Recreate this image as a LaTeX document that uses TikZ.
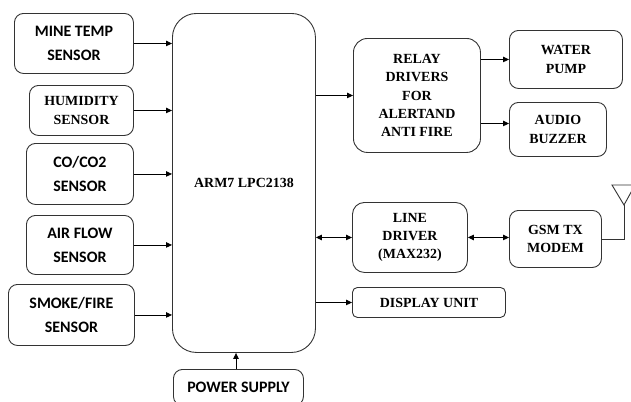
\documentclass[tikz,border=0pt]{standalone}
\usepackage{fontspec}
\setmainfont{Liberation Serif}
\newfontfamily\timesfont{Liberation Serif}
\newfontfamily\calfont{Carlito}
\usetikzlibrary{arrows.meta}
\tikzset{
  box/.style={draw=black!80, line width=0.9bp, rounded corners=9bp, inner sep=0pt, align=center, anchor=north west},
  sf/.style={font=\calfont\bfseries\fontsize{16}{24}\selectfont},
  rm/.style={font=\timesfont\bfseries\fontsize{14}{18.5}\selectfont},
  arr/.style={draw=black, line width=0.9bp, -{Triangle[length=6bp,width=5.5bp]}},
  darr/.style={draw=black, line width=0.9bp, {Triangle[length=6bp,width=5.5bp]}-{Triangle[length=6bp,width=5.5bp]}},
  ln/.style={draw=black!80, line width=0.9bp}
}
\begin{document}
\begin{tikzpicture}[x=1bp,y=-1bp]
\useasboundingbox (0,0) rectangle (631,401);
% sensors
\node[box,sf,minimum width=119bp,minimum height=60bp] (mine) at (14,13) {MINE TEMP\\SENSOR};
\node[box,rm,minimum width=104bp,minimum height=50bp] (hum) at (29,85) {HUMIDITY\\SENSOR};
\node[box,sf,minimum width=107bp,minimum height=61bp] (co) at (26,143) {CO/CO2\\SENSOR};
\node[box,sf,minimum width=107bp,minimum height=59bp] (air) at (26,215) {AIR FLOW\\SENSOR};
\node[box,sf,minimum width=126bp,minimum height=61bp] (smoke) at (8,284) {SMOKE/FIRE\\SENSOR};
% controller
\node[box,rm,rounded corners=24bp,minimum width=143bp,minimum height=339bp] (arm) at (172,13) {ARM7 LPC2138};
\node[box,sf,minimum width=130bp,minimum height=36bp] (pow) at (173,369) {POWER SUPPLY};
% right side
\node[box,rm,rounded corners=14bp,minimum width=127bp,minimum height=114bp] (relay) at (353,38) {RELAY\\DRIVERS\\FOR\\ALERTAND\\ANTI FIRE};
\node[box,rm,minimum width=113bp,minimum height=58bp] (pump) at (509,30) {WATER\\PUMP};
\node[box,rm,minimum width=97bp,minimum height=54bp] (buzz) at (509,102) {AUDIO\\BUZZER};
\node[box,rm,rounded corners=12bp,minimum width=115bp,minimum height=70bp] (ldrv) at (352,202) {LINE\\DRIVER\\(MAX232)};
\node[box,rm,minimum width=92bp,minimum height=57bp] (gsm) at (509,210) {GSM TX\\MODEM};
\node[box,rm,rounded corners=5bp,minimum width=153bp,minimum height=30bp] (disp) at (352,287) {DISPLAY UNIT};
% antenna
\coordinate (ant) at (624,205);
\draw[ln] (612,185) -- (635,185) -- (ant) -- cycle;
\draw[ln] (gsm.east) -| (ant);
% connectors
\foreach \s in {mine,hum,co,air,smoke}
  \draw[arr] (\s.east) -- (\s.east -| arm.west);
\draw[arr] (pow.north -| 236,0) -- (arm.south -| 236,0);
\draw[arr] (arm.east |- relay.west) -- (relay.west);
\draw[arr] (relay.east |- pump.west) -- (pump.west);
\draw[arr] ([yshift=6bp]relay.east |- buzz.west) -- ([yshift=6bp]buzz.west);
\draw[darr] (arm.east |- ldrv.west) -- (ldrv.west);
\draw[darr] (ldrv.east) -- (ldrv.east -| gsm.west);
\draw[arr] (arm.east |- disp.west) -- (disp.west);
\end{tikzpicture}
\end{document}
